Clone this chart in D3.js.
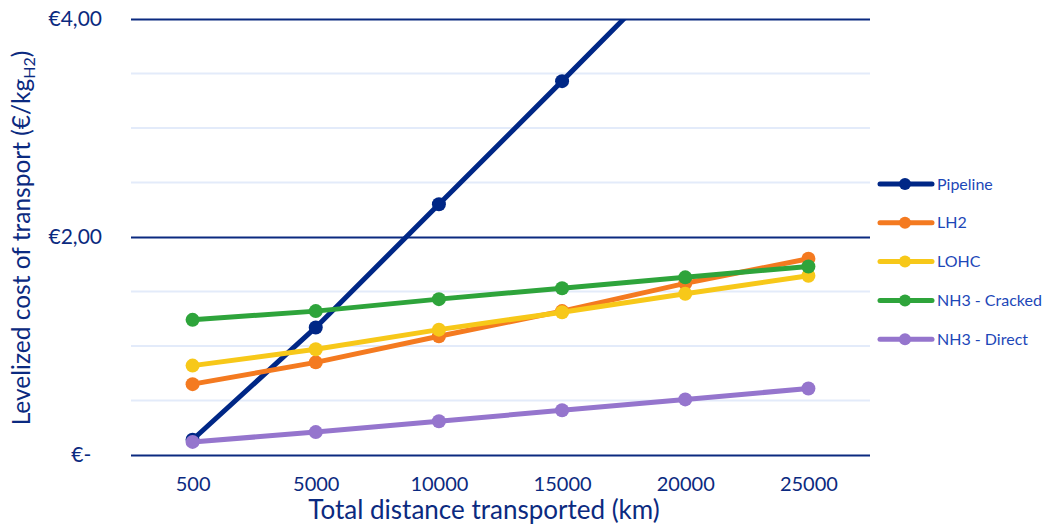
<!DOCTYPE html>
<html>
<head>
<meta charset="utf-8">
<script src="https://cdn.jsdelivr.net/npm/d3@7"></script>
<style>
  html, body { margin: 0; padding: 0; background: #fff; }
  svg { display: block; font-family: Lato, "Open Sans", sans-serif; }
</style>
</head>
<body>
<svg id="chart" width="1052" height="524"></svg>
<script>
const categories = ["500", "5000", "10000", "15000", "20000", "25000"];
const seriesNames = ["Pipeline", "LH2", "LOHC", "NH3 - Cracked", "NH3 - Direct"];
const pipeline = [0.14, 1.17, 2.30, 3.43, 4.57, 5.70];
const lh2 = [0.65, 0.85, 1.09, 1.32, 1.575, 1.80];
const lohc = [0.82, 0.97, 1.15, 1.31, 1.48, 1.645];
const nh3Cracked = [1.24, 1.32, 1.43, 1.53, 1.63, 1.73];
const nh3Direct = [0.12, 0.21, 0.31, 0.41, 0.51, 0.61];
const majorTicks = [0, 2, 4];
const minorTicks = [0.5, 1, 1.5, 2.5, 3, 3.5];
const colors = ["#002786", "#f47a20", "#f7c819", "#2ea43b", "#9575cd"];

const seriesValues = [pipeline, lh2, lohc, nh3Cracked, nh3Direct];
const series = seriesNames.map((n, i) => ({ name: n, values: seriesValues[i], color: colors[i] }));

const svg = d3.select("#chart");
const mLeft = 131, mRight = 870, mTop = 19, mBottom = 455;

const x = d3.scalePoint().domain(categories).range([mLeft, mRight]).padding(0.5);
const y = d3.scaleLinear().domain([0, 4]).range([mBottom, mTop]);

// minor gridlines
svg.append("g").selectAll("line").data(minorTicks).join("line")
  .attr("x1", mLeft).attr("x2", mRight)
  .attr("y1", d => y(d)).attr("y2", d => y(d))
  .attr("stroke", "#e3ebfa").attr("stroke-width", 2);

// y axis (major gridlines + labels)
const fmt = d => d === 0 ? "€-\u00a0\u00a0" : "€" + d3.format(".2f")(d).replace(".", ",");
const yAxis = svg.append("g")
  .attr("transform", `translate(${mLeft},0)`)
  .call(d3.axisLeft(y).tickValues(majorTicks).tickSize(-(mRight - mLeft)).tickPadding(29).tickFormat(fmt));
yAxis.select(".domain").remove();
yAxis.selectAll(".tick line").attr("stroke", "#0b2a80").attr("stroke-width", 2);
yAxis.selectAll(".tick text").attr("fill", "#0b2a80").attr("font-size", 21)
  .attr("font-family", "Lato, sans-serif");

// x axis labels
const xAxis = svg.append("g")
  .attr("transform", `translate(0,${mBottom})`)
  .call(d3.axisBottom(x).tickSize(0).tickPadding(22));
xAxis.select(".domain").remove();
xAxis.selectAll(".tick text").attr("fill", "#0b2a80").attr("font-size", 20)
  .attr("font-family", "Lato, sans-serif");

// axis titles
svg.append("text")
  .attr("x", 484).attr("y", 519)
  .attr("text-anchor", "middle").attr("fill", "#0b2a80").attr("font-size", 26)
  .text("Total distance transported (km)");

const yt = svg.append("text")
  .attr("transform", `translate(30,238) rotate(-90)`)
  .attr("text-anchor", "middle").attr("fill", "#0b2a80").attr("font-size", 24.5);
yt.append("tspan").text("Levelized cost of transport (€/kg");
yt.append("tspan").attr("font-size", 16).attr("dy", 5).text("H2");
yt.append("tspan").attr("dy", -5).text(")");

// clip
svg.append("defs").append("clipPath").attr("id", "plotclip")
  .append("rect").attr("x", 0).attr("y", mTop).attr("width", 1052).attr("height", 524 - mTop);

const line = d3.line().x((d, i) => x(categories[i])).y(d => y(d));
const plot = svg.append("g").attr("clip-path", "url(#plotclip)");
series.forEach(s => {
  const g = plot.append("g");
  g.append("path").datum(s.values).attr("d", line)
    .attr("fill", "none").attr("stroke", s.color).attr("stroke-width", 5)
    .attr("stroke-linejoin", "round").attr("stroke-linecap", "round");
  g.selectAll("circle").data(s.values).join("circle")
    .attr("cx", (d, i) => x(categories[i])).attr("cy", d => y(d)).attr("r", 7)
    .attr("fill", s.color);
});

// legend
const legend = svg.append("g");
series.forEach((s, i) => {
  const ly = 184 + i * 38.8;
  legend.append("line").attr("x1", 880).attr("x2", 932).attr("y1", ly).attr("y2", ly)
    .attr("stroke", s.color).attr("stroke-width", 5).attr("stroke-linecap", "round");
  legend.append("circle").attr("cx", 905).attr("cy", ly).attr("r", 6).attr("fill", s.color);
  legend.append("text").attr("x", 937).attr("y", ly + 5.5).attr("fill", "#1d47b8")
    .attr("font-size", 16).text(s.name);
});
</script>
</body>
</html>
